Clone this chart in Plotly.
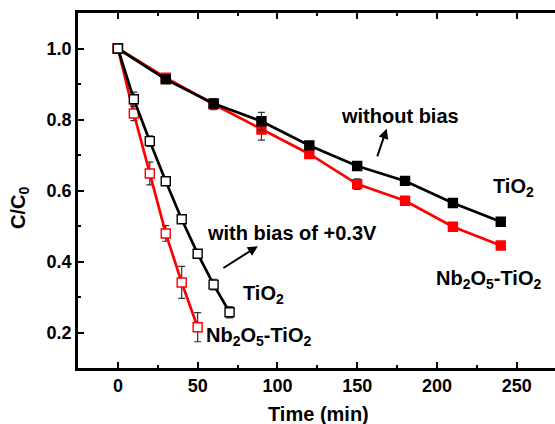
import plotly.graph_objects as go

# without bias
t_nb = [0, 30, 60, 90, 120, 150, 180, 210, 240]
tio2_nb = [1.0, 0.913, 0.845, 0.795, 0.727, 0.669, 0.627, 0.565, 0.512]
tio2_nb_err = [0.005, 0.008, 0.01, 0.025, 0.01, 0.005, 0.005, 0.005, 0.008]
nb_nb = [1.0, 0.918, 0.843, 0.772, 0.703, 0.618, 0.571, 0.498, 0.445]
nb_nb_err = [0.005, 0.008, 0.015, 0.03, 0.008, 0.015, 0.008, 0.008, 0.008]

# with bias +0.3V
t_b_tio2 = [0, 10, 20, 30, 40, 50, 60, 70]
tio2_b = [1.0, 0.857, 0.739, 0.626, 0.519, 0.422, 0.335, 0.257]
tio2_b_err = [0.0, 0.02, 0.015, 0.01, 0.012, 0.008, 0.015, 0.016]
t_b_nb = [0, 10, 20, 30, 40, 50]
nb_b = [1.0, 0.817, 0.648, 0.479, 0.341, 0.215]
nb_b_err = [0.0, 0.02, 0.032, 0.022, 0.045, 0.041]

x_ticks = [0, 50, 100, 150, 200, 250]
y_ticks = [0.2, 0.4, 0.6, 0.8, 1.0]

FONT = "Liberation Sans, Arial, sans-serif"
ERRC = "#333333"
TXT = dict(family=FONT, size=20, color="black", weight="bold")

fig = go.Figure()

def add(x, y, err, color, fill, size):
    fig.add_trace(go.Scatter(
        x=x, y=y, mode="lines+markers",
        line=dict(color=color, width=2.7),
        marker=dict(symbol="square", size=size, color=fill,
                    line=dict(color=color, width=1.4)),
        error_y=dict(type="data", array=err, visible=True,
                     color=ERRC, thickness=1.2, width=3.5),
        showlegend=False))

add(t_nb, nb_nb, nb_nb_err, "red", "red", 9)
add(t_nb, tio2_nb, tio2_nb_err, "black", "black", 9)
add(t_b_nb, nb_b, nb_b_err, "red", "white", 9)
add(t_b_tio2, tio2_b, tio2_b_err, "black", "white", 9)

def txt(x, y, s):
    fig.add_annotation(x=x, y=y, text=s, showarrow=False, font=TXT,
                       xanchor="center", yanchor="middle")

txt(176.7, 0.811, "without bias")
txt(248, 0.608, "TiO<sub>2</sub>")
txt(232, 0.348, "Nb<sub>2</sub>O<sub>5</sub>-TiO<sub>2</sub>")
txt(109.3, 0.48, "with bias of +0.3V")
txt(91, 0.306, "TiO<sub>2</sub>")
txt(88, 0.19, "Nb<sub>2</sub>O<sub>5</sub>-TiO<sub>2</sub>")

def arrow(x0, y0, x1, y1):
    fig.add_annotation(x=x1, y=y1, ax=x0, ay=y0, xref="x", yref="y",
                       axref="x", ayref="y", text="", showarrow=True,
                       arrowhead=2, arrowsize=1, arrowwidth=2,
                       arrowcolor="black")

arrow(162.3, 0.692, 168.5, 0.774)
arrow(65.2, 0.379, 87.7, 0.443)

# axis titles
fig.add_annotation(x=(318 - 78) / 477, y=-46 / 355, xref="paper", yref="paper",
                   text="Time (min)", showarrow=False, font=TXT,
                   xanchor="center", yanchor="middle")
fig.add_annotation(x=-58 / 477, y=(368 - 208) / 355, xref="paper", yref="paper",
                   text="C/C<sub>0</sub>", showarrow=False, textangle=-90,
                   font=TXT, xanchor="center", yanchor="middle")

axis_common = dict(showgrid=False, zeroline=False, showline=True,
                   linecolor="black", linewidth=2.5, ticks="inside",
                   tickwidth=2, ticklen=6, tickcolor="black",
                   tickfont=dict(family=FONT, size=18, color="black",
                                 weight="bold"))

fig.update_xaxes(range=[-25, 274], tickvals=x_ticks,
                 tickformat="d",
                 mirror="allticks",
                 minor=dict(tickvals=[25, 75, 125, 175, 225], ticks="inside",
                            ticklen=3, tickwidth=2, tickcolor="black"),
                 **axis_common)
fig.update_yaxes(range=[0.1, 1.1], tickvals=y_ticks,
                 tickformat=".1f",
                 mirror=False,
                 minor=dict(tickvals=[0.3, 0.5, 0.7, 0.9], ticks="inside",
                            ticklen=3, tickwidth=2, tickcolor="black"),
                 **axis_common)

fig.update_layout(width=555, height=424,
                  margin=dict(l=78, r=0, t=13, b=56),
                  plot_bgcolor="white", paper_bgcolor="white",
                  font=dict(family=FONT, color="black"))

fig.write_html("out.html")
